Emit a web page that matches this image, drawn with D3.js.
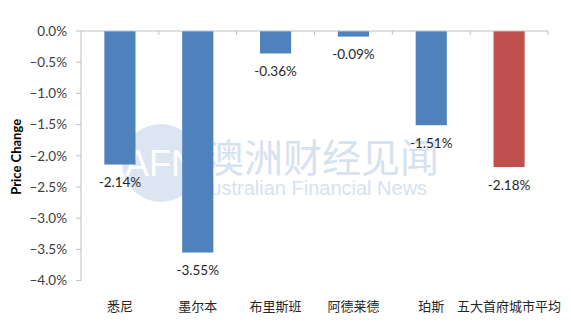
<!DOCTYPE html>
<html><head><meta charset="utf-8">
<script src="https://cdn.jsdelivr.net/npm/d3@7"></script>
<style>body{margin:0;background:#fff}svg{display:block}</style>
</head><body>
<script>
const categories = ["悉尼","墨尔本","布里斯班","阿德莱德","珀斯","五大首府城市平均"];
const values = [-2.14,-3.55,-0.36,-0.09,-1.51,-2.18];
const valueLabels = ["-2.14%","-3.55%","-0.36%","-0.09%","-1.51%","-2.18%"];
const yTicks = [0,-0.5,-1,-1.5,-2,-2.5,-3,-3.5,-4];
const yTitle = "Price Change";

const W=571,H=325;
const svg=d3.select("body").append("svg").attr("width",W).attr("height",H);
const x=d3.scaleBand().domain(categories).range([81,548]).padding(0);
const y=d3.scaleLinear().domain([-4,0]).range([280.6,31]);
const fontLat="Lato, 'Open Sans', sans-serif";

// watermark
const wm=svg.append("g");
wm.append("circle").attr("cx",161).attr("cy",163).attr("r",39).attr("fill","#dbe6f2");
wm.append("text").attr("x",161).attr("y",176).attr("text-anchor","middle")
  .attr("font-family","Arial, 'Liberation Sans', sans-serif").attr("font-size",36)
  .attr("fill","#ffffff").text("AFN");
wm.append("text").attr("x",205).attr("y",172).attr("font-family","'Noto Sans CJK SC'")
  .attr("font-size",39).attr("fill","#d6e2ee").attr("letter-spacing",0).text("澳洲财经见闻");
wm.append("text").attr("x",197).attr("y",195).attr("font-family","Arial, 'Liberation Sans', sans-serif")
  .attr("font-size",20).attr("fill","#d6e2ee").text("Australian Financial News");

// y axis
const axisColor="#bfbfbf";
svg.append("line").attr("x1",81).attr("x2",81).attr("y1",y(0)).attr("y2",y(-4)).attr("stroke",axisColor);
yTicks.forEach(t=>{
  svg.append("line").attr("x1",76).attr("x2",81).attr("y1",y(t)).attr("y2",y(t)).attr("stroke",axisColor);
  svg.append("text").attr("x",67).attr("y",y(t)).attr("dy","0.35em").attr("text-anchor","end")
    .attr("font-family",fontLat).attr("font-size",13.5).attr("fill","#404040")
    .text(d3.format(".1f")(t===0?0:t)+"%");
});
svg.append("text").attr("transform",`translate(21,${(y(0)+y(-4))/2+1}) rotate(-90)`)
  .attr("text-anchor","middle").attr("font-family",fontLat).attr("font-weight","bold")
  .attr("font-size",13).attr("fill","#000").text(yTitle);

// bars
const bw=x.bandwidth()*0.4;
svg.selectAll("rect.bar").data(categories).enter().append("rect")
  .attr("x",(d)=>x(d)+x.bandwidth()/2-bw/2).attr("width",bw)
  .attr("y",y(0)).attr("height",(d,i)=>y(values[i])-y(0))
  .attr("fill",(d,i)=>i===categories.length-1?"#c0504d":"#4f81bd");

// x axis line + ticks
svg.append("line").attr("x1",81).attr("x2",548).attr("y1",y(0)).attr("y2",y(0)).attr("stroke",axisColor);
categories.forEach((c,i)=>{
  const xb=x(c)+x.bandwidth();
  svg.append("line").attr("x1",xb).attr("x2",xb).attr("y1",y(0)).attr("y2",y(0)+4).attr("stroke",axisColor);
});

// value labels
svg.selectAll("text.vl").data(categories).enter().append("text")
  .attr("x",d=>x(d)+x.bandwidth()/2).attr("y",(d,i)=>y(values[i])+18).attr("dy","0.35em")
  .attr("text-anchor","middle").attr("font-family",fontLat).attr("font-size",13.5)
  .attr("fill","#262626").text((d,i)=>valueLabels[i]);

// category labels
svg.selectAll("text.cl").data(categories).enter().append("text")
  .attr("x",d=>x(d)+x.bandwidth()/2).attr("y",306).attr("dy","0.35em")
  .attr("text-anchor","middle").attr("font-family","'Noto Sans CJK SC'").attr("font-size",13)
  .attr("fill","#262626").text(d=>d);
</script>
</body></html>
